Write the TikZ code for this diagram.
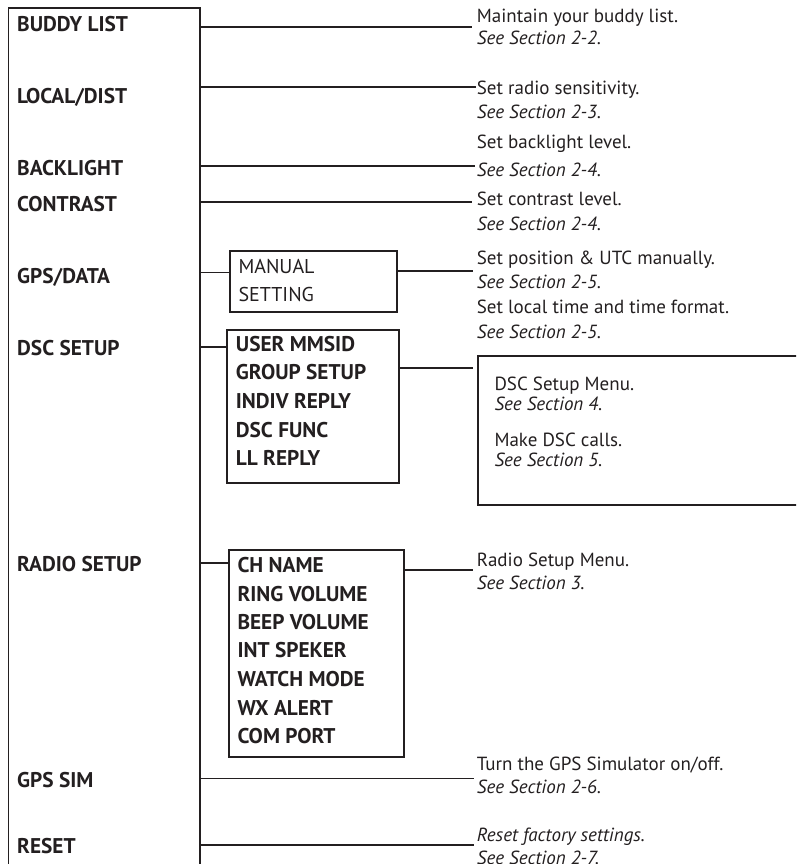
\documentclass[tikz,border=0pt]{standalone}
\usepackage{fontspec}
\setmainfont{PT Sans}
\definecolor{ink}{HTML}{231F20}
\begin{document}
\begin{tikzpicture}[x=1pt,y=-1pt,
  lbl/.style={anchor=base west,inner sep=0pt,font=\fontsize{21.3}{24}\selectfont\bfseries,text=ink},
  itm/.style={anchor=base west,inner sep=0pt,font=\fontsize{21.3}{24}\selectfont\bfseries,text=ink},
  reg/.style={anchor=base west,inner sep=0pt,font=\fontsize{19}{21}\selectfont,text=ink},
  ita/.style={anchor=base west,inner sep=0pt,font=\fontsize{19}{21}\selectfont\itshape,text=ink},
  frame/.style={draw=ink,line width=1.9pt,inner sep=0pt},
  wire/.style={draw=ink,line width=1.9pt}]
\useasboundingbox (0,0) rectangle (796,864);
\clip (0,0) rectangle (796,864);
% main box
\node[frame,anchor=north west,minimum width=191.5pt,minimum height=900pt] (menu) at (7.5,7.5) {};
% left labels
\node[lbl] (buddy) at (17,32) {BUDDY LIST};
\node[lbl] (local) at (17,103) {LOCAL/DIST};
\node[lbl] (back) at (17,175) {BACKLIGHT};
\node[lbl] (contr) at (17,211) {CONTRAST};
\node[lbl] (gps) at (17,283) {GPS/DATA};
\node[lbl] (dsc) at (17,355) {DSC SETUP};
\node[lbl] (radio) at (17,571) {RADIO SETUP};
\node[lbl] (gpssim) at (17,787) {GPS SIM};
\node[lbl] (reset) at (17,853) {RESET};
% sub boxes
\node[frame,anchor=north west,minimum width=166.7pt,minimum height=61pt] (manbox) at (229,250) {};
\node[frame,anchor=north west,minimum width=172.3pt,minimum height=152.4pt] (dscbox) at (226,329.3) {};
\node[frame,anchor=north west,minimum width=320pt,minimum height=149pt] (dscinfo) at (477,355) {};
\node[frame,anchor=north west,minimum width=175pt,minimum height=206.7pt] (radbox) at (227.7,549.3) {};
% sub box texts
\node[reg,font=\fontsize{20}{24}\selectfont] (man1) at (238.3,273.3) {MANUAL};
\node[reg,font=\fontsize{20}{24}\selectfont] (man2) at (238.3,301) {SETTING};
\node[itm] (ds1) at (235.7,351.7) {USER MMSID};
\node[itm] (ds2) at (235.7,379.3) {GROUP SETUP};
\node[itm] (ds3) at (235.7,408.3) {INDIV REPLY};
\node[itm] (ds4) at (235.7,437.3) {DSC FUNC};
\node[itm] (ds5) at (235.7,465.7) {LL REPLY};
\node[itm] (rs1) at (237.3,572.3) {CH NAME};
\node[itm] (rs2) at (237.3,601) {RING VOLUME};
\node[itm] (rs3) at (237.3,629) {BEEP VOLUME};
\node[itm] (rs4) at (237.3,657.7) {INT SPEKER};
\node[itm] (rs5) at (237.3,686) {WATCH MODE};
\node[itm] (rs6) at (237.3,715) {WX ALERT};
\node[itm] (rs7) at (237.3,743) {COM PORT};
% descriptions
\node[reg] (t1a) at (476.7,22.3) {Maintain your buddy list.};
\node[ita] (t1b) at (476.7,45) {See Section 2-2.};
\node[reg] (t2a) at (476.7,95) {Set radio sensitivity.};
\node[ita] (t2b) at (476.7,118) {See Section 2-3.};
\node[reg] (t3a) at (476.7,148.3) {Set backlight level.};
\node[ita] (t3b) at (476.7,176.7) {See Section 2-4.};
\node[reg] (t4a) at (476.7,205) {Set contrast level.};
\node[ita] (t4b) at (476.7,230) {See Section 2-4.};
\node[reg] (t5a) at (476.7,264) {Set position \& UTC manually.};
\node[ita] (t5b) at (476.7,288) {See Section 2-5.};
\node[reg] (t5c) at (476.7,313) {Set local time and time format.};
\node[ita] (t5d) at (476.7,338) {See Section 2-5.};
\node[reg] (t6a) at (494.3,390) {DSC Setup Menu.};
\node[ita] (t6b) at (494.3,410) {See Section 4.};
\node[reg] (t6c) at (494.3,446) {Make DSC calls.};
\node[ita] (t6d) at (494.3,466) {See Section 5.};
\node[reg] (t7a) at (476.7,566.7) {Radio Setup Menu.};
\node[ita] (t7b) at (476.7,589) {See Section 3.};
\node[reg] (t8a) at (476.7,770) {Turn the GPS Simulator on/off.};
\node[ita] (t8b) at (476.7,793) {See Section 2-6.};
\node[ita] (t9a) at (476.7,841) {Reset factory settings.};
\node[ita] (t9b) at (476.7,864) {See Section 2-7.};
% line end coordinates
\coordinate (e1) at (472,27.3);
\coordinate (e2) at (476,87.3);
\coordinate (e3) at (475,165.7);
\coordinate (e4) at (472,201.7);
\coordinate (e5) at (473.3,271);
\coordinate (e6) at (472.5,367.7);
\coordinate (e7) at (473,570);
\coordinate (e8) at (474,778.5);
\coordinate (e9) at (474,845);
% connectors
\draw[wire] (menu.east |- e1) -- (e1);
\draw[wire] (menu.east |- e2) -- (e2);
\draw[wire] (menu.east |- e3) -- (e3);
\draw[wire] (menu.east |- e4) -- (e4);
\draw[wire] (menu.east |- 0,272.5) -- (manbox.west |- 0,272.5);
\draw[wire] (manbox.east |- e5) -- (e5);
\draw[wire] (menu.east |- 0,346.7) -- (dscbox.west |- 0,346.7);
\draw[wire] (dscbox.east |- e6) -- (e6);
\draw[wire] (menu.east |- 0,562.7) -- (radbox.west |- 0,562.7);
\draw[wire] (radbox.east |- e7) -- (e7);
\draw[wire] (menu.east |- e8) -- (e8);
\draw[wire] (menu.east |- e9) -- (e9);
\end{tikzpicture}
\end{document}
